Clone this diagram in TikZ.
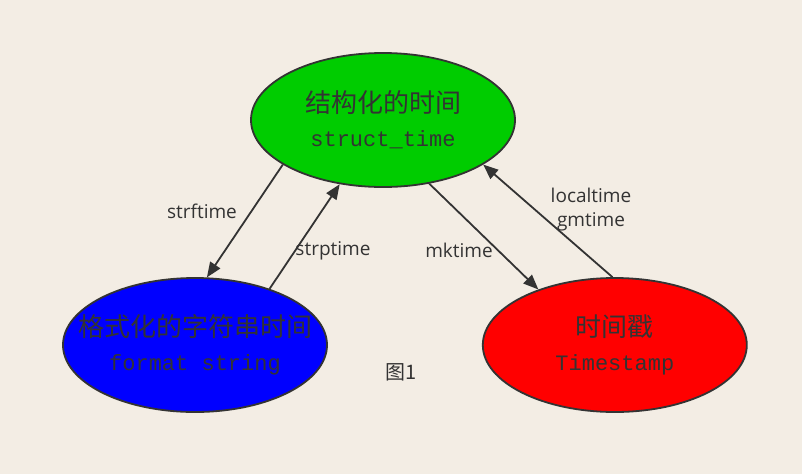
\documentclass[tikz,border=0pt]{standalone}
\usepackage{fontspec}
\usetikzlibrary{arrows.meta,positioning,shapes.geometric}
\newfontfamily\cjkfont{Noto Sans CJK SC}
\newfontfamily\latinfont{Open Sans}
\newfontfamily\codefont{Liberation Mono}
\definecolor{paper}{HTML}{F3EDE4}
\definecolor{ink}{HTML}{333333}
\definecolor{leaf}{HTML}{00CC00}
\definecolor{sea}{HTML}{0000FF}
\definecolor{fire}{HTML}{FF0000}
\newcommand{\zhtxt}[1]{{\cjkfont\fontsize{26}{34}\selectfont #1}}
\newcommand{\codetxt}[1]{{\codefont\fontsize{22}{34}\selectfont #1}}
\tikzset{
  state/.style={ellipse, draw=ink, line width=1.8pt, minimum width=264pt, minimum height=134pt, inner xsep=-60pt, inner ysep=0pt, align=center, text=ink, font=\fontsize{26}{34}\selectfont},
  flow/.style={-{Triangle[length=15pt,width=12pt]}, line width=1.8pt, draw=ink},
  fname/.style={font=\latinfont\fontsize{19}{24}\selectfont, text=ink, align=center}
}
\begin{document}
\begin{tikzpicture}[x=1pt,y=-1pt]
\useasboundingbox[fill=paper] (0,0) rectangle (802,474);
\node[state,fill=leaf] (st) at (383,120) {\zhtxt{结构化的时间}\\\codetxt{struct\_time}};
\node[state,fill=sea] (fmt) at (195,345) {\zhtxt{格式化的字符串时间}\\\codetxt{format string}};
\node[state,fill=fire,right=154pt of fmt] (ts) {\zhtxt{时间戳}\\\codetxt{Timestamp}};
\draw[flow] (st.204)--(fmt.80);
\draw[flow] (fmt.37)--(st.236);
\draw[flow] (st.306)--(ts.144);
\draw[flow] (ts.92)--(st.336);
\node[fname] (strf) at (202,211) {strftime};
\node[fname] (strp) at (333,251) {strptime};
\node[fname] (mk) at (459,250) {mktime};
\node[fname] (local) at (591,210) {localtime\\gmtime};
\node[text=ink,font=\cjkfont\fontsize{20}{24}\selectfont] (fig) at (401,372) {图1};
\end{tikzpicture}
\end{document}
